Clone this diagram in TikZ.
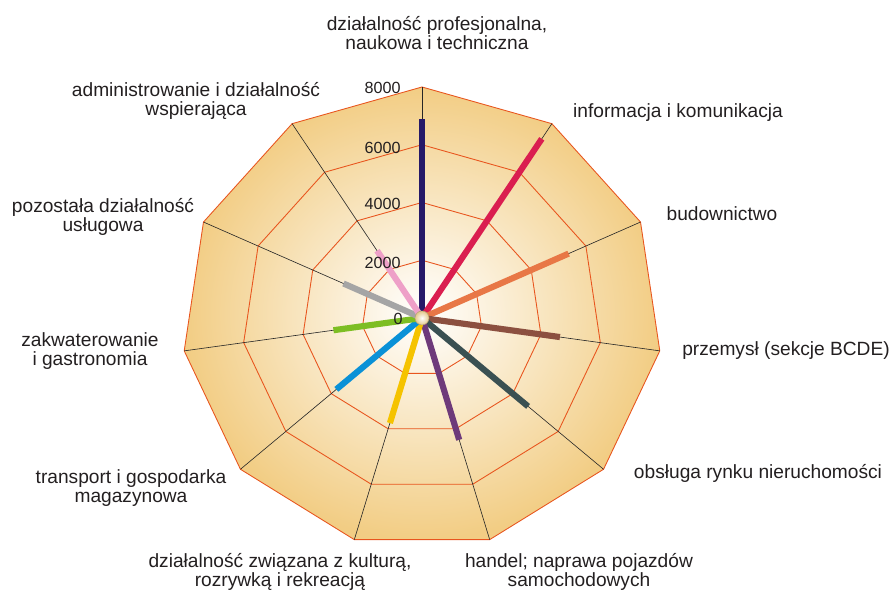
\documentclass[tikz,border=0pt]{standalone}
\usepackage{fontspec}
\setmainfont{Liberation Sans}
\definecolor{gridred}{RGB}{232,85,30}
\definecolor{webfill}{RGB}{242,205,132}
\definecolor{hub}{RGB}{228,200,140}
\definecolor{txt}{RGB}{35,31,32}
\definecolor{cnavy}{RGB}{38,25,104}
\definecolor{ccrimson}{RGB}{218,30,80}
\definecolor{corange}{RGB}{232,119,70}
\definecolor{cbrown}{RGB}{140,80,64}
\definecolor{cslate}{RGB}{58,80,82}
\definecolor{cpurple}{RGB}{110,58,122}
\definecolor{cyellow}{RGB}{245,195,0}
\definecolor{cblue}{RGB}{10,145,215}
\definecolor{cgreen}{RGB}{125,190,35}
\definecolor{cgray}{RGB}{165,165,165}
\definecolor{cpink}{RGB}{238,160,200}

\begin{document}
\begin{tikzpicture}[x=0.02cm,y=0.02cm,
  cat/.style={align=center,text=txt,font=\fontsize{10.9}{11.2}\selectfont},
  tick/.style={anchor=east,inner sep=0pt,text=txt,font=\fontsize{9.2}{10}\selectfont},
  bar/.style={line width=3.5pt}]
\useasboundingbox (-422,-272) rectangle (470,318);
\begin{scope}[xscale=1.04]
% web and grid
\shade[inner color=white,outer color=webfill] (90:231) \foreach \i in {1,...,10}{ -- ({90-\i*360/11}:231)} -- cycle;
\foreach \r in {57.75,115.5,173.25,231}
  \draw[gridred,line width=0.5pt] (90:\r) \foreach \i in {1,...,10}{ -- ({90-\i*360/11}:\r)} -- cycle;
\foreach \i in {0,...,10}
  \draw[black!85,line width=0.35pt] (0,0) -- ({90-\i*360/11}:231);
% bars
\draw[bar,cnavy] (0,0) -- (90:199);
\draw[bar,ccrimson] (0,0) -- (57.27:213);
\draw[bar,corange] (0,0) -- (24.55:155);
\draw[bar,cbrown] (0,0) -- (-8.18:134);
\draw[bar,cslate] (0,0) -- (-40.91:135);
\draw[bar,cpurple] (0,0) -- (-73.64:127);
\draw[bar,cyellow] (0,0) -- (-106.36:109.5);
\draw[bar,cblue] (0,0) -- (-139.09:109);
\draw[bar,cgreen] (0,0) -- (-171.82:86);
\draw[bar,cgray] (0,0) -- (155.45:83);
\draw[bar,cpink] (0,0) -- (122.73:80);
\end{scope}
\shade[inner color=white,outer color=hub,draw=hub!80!black,line width=0.3pt] (0,0) circle (7);
% scale
\node[tick] (t8) at (-21,230) {8000};
\node[tick] (t6) at (-21,170) {6000};
\node[tick] (t4) at (-21,114) {4000};
\node[tick] (t2) at (-21,55) {2000};
\node[tick] (t0) at (-19,-1) {0};
% categories
\node[cat] (lprof) at (15,285) {działalność profesjonalna,\\naukowa i techniczna};
\node[cat] (linfo) at (256,205) {informacja i komunikacja};
\node[cat] (lbud) at (300,104) {budownictwo};
\node[cat] (lprzem) at (364,-33) {przemysł (sekcje BCDE)};
\node[cat] (lnier) at (336,-155) {obsługa rynku nieruchomości};
\node[cat] (lhandel) at (157,-254) {handel; naprawa pojazdów\\samochodowych};
\node[cat] (lkult) at (-142,-254) {działalność związana z kulturą,\\rozrywką i rekreacją};
\node[cat] (ltrans) at (-291,-170) {transport i gospodarka\\magazynowa};
\node[cat] (lzakw) at (-332,-33) {zakwaterowanie\\i gastronomia};
\node[cat] (lpoz) at (-319,101) {pozostała działalność\\usługowa};
\node[cat] (ladm) at (-226,217) {administrowanie i działalność\\wspierająca};
\end{tikzpicture}
\end{document}
